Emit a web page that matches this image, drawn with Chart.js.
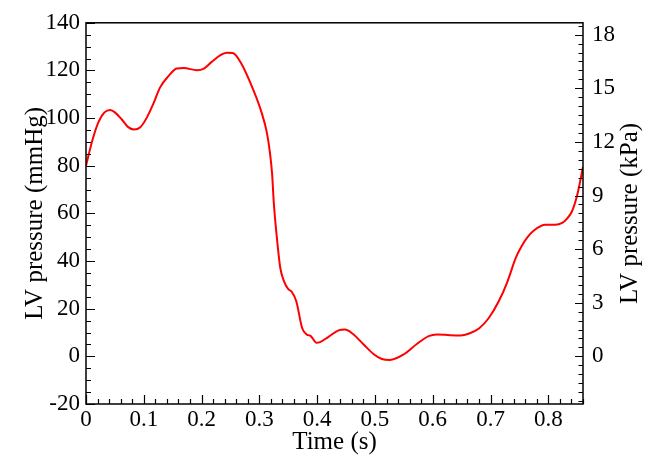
<!DOCTYPE html>
<html>
<head>
<meta charset="utf-8">
<script src="https://cdn.jsdelivr.net/npm/chart.js@4/dist/chart.umd.min.js"></script>
<style>
body { margin: 0; background: #fff; }
canvas { display: block; }
</style>
</head>
<body>
<canvas id="lvCanvas" width="667" height="459"></canvas>
<script>
// Data
var timeValues = [0.000, 0.010, 0.021, 0.032, 0.042, 0.050, 0.062, 0.073, 0.083, 0.094,
	0.105, 0.117, 0.128, 0.143, 0.157, 0.169, 0.192, 0.204, 0.217, 0.232,
	0.244, 0.254, 0.268, 0.290, 0.304, 0.313, 0.318, 0.322, 0.325, 0.330,
	0.336, 0.342, 0.350, 0.356, 0.364, 0.374, 0.382, 0.389, 0.399, 0.405,
	0.419, 0.437, 0.448, 0.463, 0.480, 0.498, 0.512, 0.526, 0.549, 0.573,
	0.593, 0.607, 0.630, 0.648, 0.662, 0.680, 0.697, 0.714, 0.729, 0.744,
	0.754, 0.764, 0.775, 0.795, 0.812, 0.824, 0.832, 0.841, 0.850, 0.860];
var pressureValues = [80, 89.8, 98, 102.4, 103.4, 102.4, 99.4, 96.2, 95.2, 96.2,
	100.1, 106.3, 112.8, 117.7, 120.8, 121, 120.1, 120.8, 123.5, 126.3,
	127.4, 127.3, 123.2, 111.5, 102.2, 93.9, 86, 76.7, 64.3, 50.5,
	37.4, 31.9, 28.2, 27.1, 23, 11.9, 9.2, 8.5, 5.7, 6,
	8.1, 10.9, 11.3, 9.2, 5.1, 0.9, -1.1, -1.5, 0.7, 5.3,
	8.5, 9.2, 8.9, 8.8, 9.5, 11.7, 16.1, 23, 31.2, 41.5,
	46.3, 50, 52.8, 55.2, 55.2, 56, 57.7, 60.9, 67.7, 79.5];

// Axis ranges and tick steps
var timeRange = [0, 0.86];
var mmHgRange = [-20, 140];
var mmHgPerKPa = 7.50062;
var timeTicks = {major: 0.1, minor: 0.02};
var mmHgTicks = {major: 20, minor: 5};
var kPaTicks = {major: 3, minor: 0.5};

var axisTitles = {x: "Time (s)", y: "LV pressure (mmHg)", y2: "LV pressure (kPa)"};

var points = [];
for (var i = 0; i < timeValues.length; i++) {
	points.push({x: timeValues[i], y: pressureValues[i]});
}

var fontFamily = "'Liberation Serif', 'Times New Roman', serif";
var tickSize = 23;
var titleSize = 25;
Chart.defaults.color = "#000";

// Frame plus inward ticks (major and minor), placed through the chart scales
var frameTicks = {
	id: "frameTicks",
	afterDraw: function(chart) {
		var ctx = chart.ctx;
		var a = chart.chartArea;
		ctx.save();
		ctx.strokeStyle = "#000";
		ctx.lineWidth = 1.5;
		ctx.strokeRect(a.left, a.top, a.right - a.left, a.bottom - a.top);

		ctx.lineWidth = 1.2;
		ctx.beginPath();
		// left axis
		var ys = chart.scales.y;
		var n = Math.round((mmHgRange[1] - mmHgRange[0]) / mmHgTicks.minor);
		for (var k = 0; k <= n; k++) {
			var v = mmHgRange[0] + k * mmHgTicks.minor;
			var py = Math.round(ys.getPixelForValue(v)) + 0.5;
			var len = (Math.abs(v % mmHgTicks.major) < 1e-9) ? 9 : 5;
			ctx.moveTo(a.left, py);
			ctx.lineTo(a.left + len, py);
		}
		// right axis
		var ys2 = chart.scales.y2;
		var kStart = Math.ceil(ys2.min / kPaTicks.minor);
		var kEnd = Math.floor(ys2.max / kPaTicks.minor);
		for (var k = kStart; k <= kEnd; k++) {
			var v = k * kPaTicks.minor;
			var py = Math.round(ys2.getPixelForValue(v)) + 0.5;
			var len = (k % Math.round(kPaTicks.major / kPaTicks.minor) === 0) ? 8 : 4.5;
			ctx.moveTo(a.right, py);
			ctx.lineTo(a.right - len, py);
		}
		// bottom axis
		var xs = chart.scales.x;
		var m = Math.floor(timeRange[1] / timeTicks.minor + 1e-9);
		for (var k = 0; k <= m; k++) {
			var v = k * timeTicks.minor;
			var px = Math.round(xs.getPixelForValue(v)) + 0.5;
			var len = (k % Math.round(timeTicks.major / timeTicks.minor) === 0) ? 9 : 5;
			ctx.moveTo(px, a.bottom);
			ctx.lineTo(px, a.bottom - len);
		}
		ctx.stroke();

		// right axis title, read bottom-to-top like the left one
		ctx.fillStyle = "#000";
		ctx.font = titleSize + "px " + fontFamily;
		ctx.textAlign = "center";
		ctx.textBaseline = "middle";
		ctx.translate(ys2.right - 37, (a.top + a.bottom) / 2);
		ctx.rotate(-Math.PI / 2);
		ctx.fillText(axisTitles.y2, 0, 0);
		ctx.restore();
	}
};

var chart = new Chart(document.getElementById("lvCanvas").getContext("2d"), {
	type: "line",
	data: {
		datasets: [{
			data: points,
			borderColor: "#ff0000",
			borderWidth: 2,
			pointRadius: 0,
			fill: false,
			cubicInterpolationMode: "monotone",
			yAxisID: "y"
		}]
	},
	options: {
		responsive: false,
		animation: false,
		devicePixelRatio: 1,
		layout: {padding: {top: 17, left: 0, right: 0, bottom: 0}},
		plugins: {legend: {display: false}, tooltip: {enabled: false}},
		scales: {
			x: {
				type: "linear",
				position: "bottom",
				min: timeRange[0],
				max: timeRange[1],
				grid: {display: false, drawTicks: false},
				border: {display: false},
				ticks: {
					stepSize: timeTicks.major,
					includeBounds: false,
					padding: 2,
					maxRotation: 0,
					font: {family: fontFamily, size: tickSize},
					callback: function(v) { return v === 0 ? "0" : v.toFixed(1); }
				},
				title: {display: true, text: axisTitles.x, padding: {top: 0, bottom: 2},
					font: {family: fontFamily, size: titleSize}},
				afterFit: function(s) { s.height = 55; }
			},
			y: {
				type: "linear",
				position: "left",
				min: mmHgRange[0],
				max: mmHgRange[1],
				grid: {display: false, drawTicks: false},
				border: {display: false},
				ticks: {
					stepSize: mmHgTicks.major,
					padding: 6,
					font: {family: fontFamily, size: tickSize}
				},
				title: {display: true, text: axisTitles.y, padding: {top: 20, bottom: 0},
					font: {family: fontFamily, size: titleSize}},
				afterFit: function(s) { s.width = 86; }
			},
			y2: {
				type: "linear",
				position: "right",
				display: true,
				min: mmHgRange[0] / mmHgPerKPa,
				max: mmHgRange[1] / mmHgPerKPa,
				grid: {display: false, drawTicks: false},
				border: {display: false},
				ticks: {
					stepSize: kPaTicks.major,
					includeBounds: false,
					padding: 9,
					font: {family: fontFamily, size: tickSize},
					callback: function(v) { return String(Math.round(v)); }
				},
				title: {display: false},
				afterFit: function(s) { s.width = 84; }
			}
		}
	},
	plugins: [frameTicks]
});
</script>
</body>
</html>
